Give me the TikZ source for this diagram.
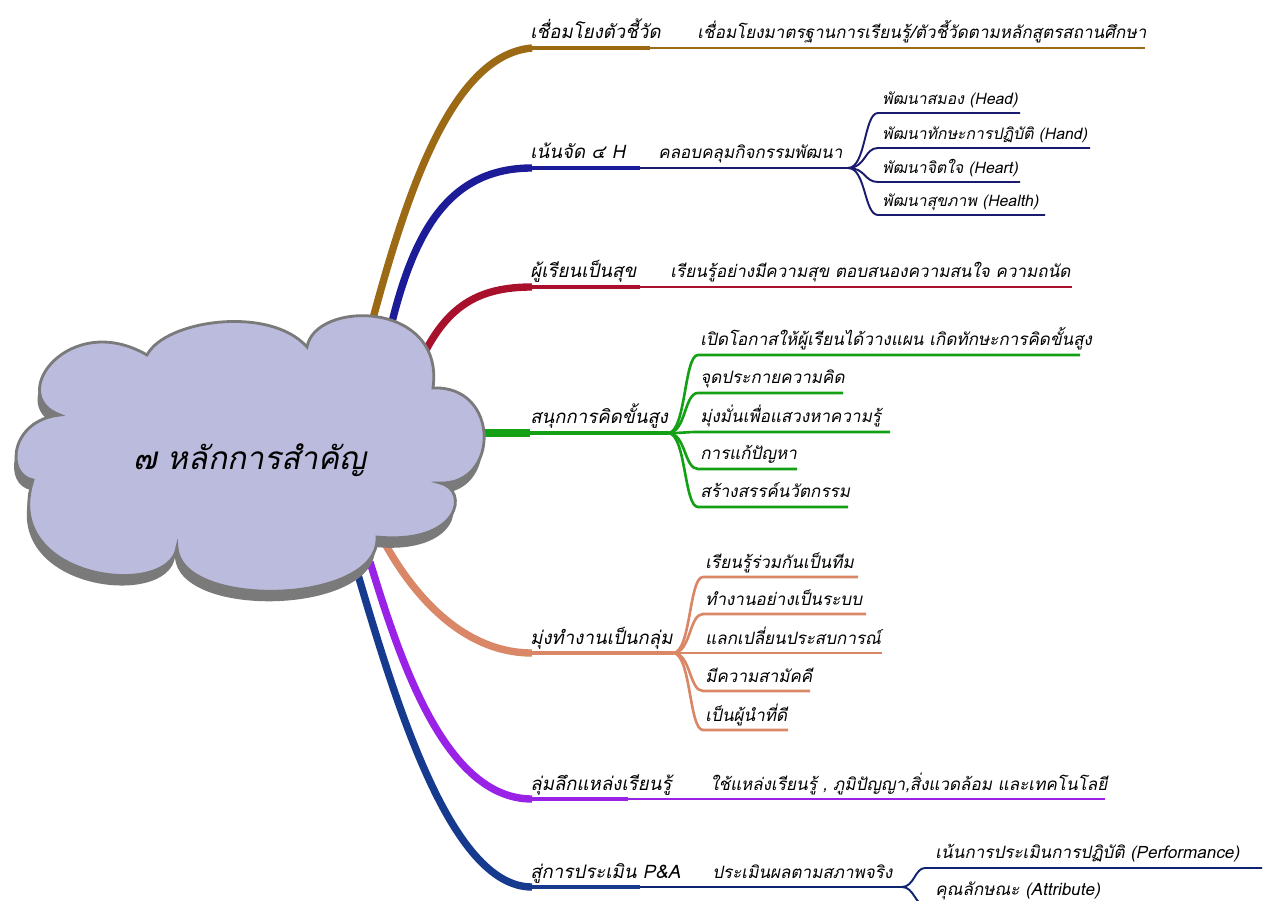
\documentclass[tikz,border=0pt]{standalone}
\usepackage{fontspec}
\newfontfamily\thaifont[Script=Thai,FakeSlant=0.2]{Loma}
\definecolor{gold}{HTML}{9C6A14}
\definecolor{royal}{HTML}{1C1C98}
\definecolor{ink}{HTML}{1A1A6E}
\definecolor{crimson}{HTML}{A8102C}
\definecolor{leafgreen}{HTML}{14A014}
\definecolor{salmon}{HTML}{D98766}
\definecolor{purp}{HTML}{9A22E6}
\definecolor{navy}{HTML}{163A8E}
\definecolor{deepnavy}{HTML}{0E2470}
\definecolor{cloudfill}{HTML}{BBBBDD}
\definecolor{rim}{HTML}{7A7A7A}
\newcommand{\puffpath}{(60,415) .. controls (5,395) and (70,310) .. (147,355) .. controls (165,320) and (270,305) .. (307,347) .. controls (315,300) and (445,300) .. (433,388) .. controls (500,385) and (500,485) .. (440,483) .. controls (470,490) and (460,545) .. (377,537) .. controls (380,605) and (180,610) .. (177,547) .. controls (170,600) and (0,580) .. (33,480) .. controls (5,475) and (10,420) .. (60,415) -- cycle}
\begin{document}
\begin{tikzpicture}[x=0.02cm,y=-0.02cm,
	lbl/.style={font=\thaifont\fontsize{10.6}{13}\selectfont,anchor=base west,inner sep=0pt},
	sublbl/.style={font=\thaifont\fontsize{9.7}{12}\selectfont,anchor=base west,inner sep=0pt},
	leaf/.style={font=\thaifont\fontsize{9}{11}\selectfont,anchor=base west,inner sep=0pt},
	stem/.style={line width=4.2pt},
	bar/.style={line width=2.4pt},
	twig/.style={line width=1.5pt},
	sprig/.style={line width=1.1pt}]
\useasboundingbox (0,0) rectangle (1277,901);

% roots of the branches
\coordinate (rA) at (372,322);
\coordinate (rB) at (392,322);
\coordinate (rC) at (426,350);
\coordinate (rD) at (480,433);
\coordinate (rE) at (383,540);
\coordinate (rF) at (370,562);
\coordinate (rG) at (356,568);

% 1
\node[lbl] (A) at (530,39) {เชื่อมโยงตัวชี้วัด};
\node[sublbl] (A1) at (697,39) {เชื่อมโยงมาตรฐานการเรียนรู้/ตัวชี้วัดตามหลักสูตรสถานศึกษา};
\coordinate (hA) at (532,48);
\coordinate (jA) at (650,48);
\coordinate (eA) at (1145,48);
\draw[gold,stem] (rA) .. controls (405,200) and (450,55) .. (hA);
\draw[gold,bar] (hA) -- (jA);
\draw[gold,twig] (jA) -- (eA);

% 2
\node[lbl] (B) at (530,159) {เน้นจัด ๔ H};
\node[sublbl] (B0) at (658,159) {คลอบคลุมกิจกรรมพัฒนา};
\coordinate (hB) at (532,168);
\coordinate (jB) at (640,168);
\coordinate (kB) at (848,168);
\draw[royal,stem] (rB) .. controls (415,230) and (450,168) .. (hB);
\draw[royal,bar] (hB) -- (jB);
\draw[ink,twig] (jB) -- (kB);
\foreach \i/\y/\e/\t in {1/113/1020/{พัฒนาสมอง (Head)},2/148/1090/{พัฒนาทักษะการปฏิบัติ (Hand)},3/182/1020/{พัฒนาจิตใจ (Heart)},4/215/1045/{พัฒนาสุขภาพ (Health)}}{
	\node[leaf] (B\i) at (882,\y-8) {\t};
	\coordinate (b\i) at (878,\y);
	\coordinate (be\i) at (\e,\y);
	\draw[ink,sprig] (kB) .. controls +(18,0) and +(-14,0) .. (b\i) -- (be\i);
}

% 3
\node[lbl] (C) at (530,278) {ผู้เรียนเป็นสุข};
\node[sublbl] (C1) at (670,278) {เรียนรู้อย่างมีความสุข ตอบสนองความสนใจ ความถนัด};
\coordinate (hC) at (532,287);
\coordinate (jC) at (640,287);
\coordinate (eC) at (1072,287);
\draw[crimson,stem] (rC) .. controls (450,305) and (480,287) .. (hC);
\draw[crimson,bar] (hC) -- (jC);
\draw[crimson,twig] (jC) -- (eC);

% 4
\node[lbl] (D) at (530,424) {สนุกการคิดขั้นสูง};
\coordinate (hD) at (530,433);
\coordinate (kD) at (668,433);
\draw[leafgreen,stem] (rD) -- (hD);
\draw[leafgreen,bar] (hD) -- (kD);
\foreach \i/\y/\e/\t in {1/355/1080/{เปิดโอกาสให้ผู้เรียนได้วางแผน เกิดทักษะการคิดขั้นสูง},2/393/843/{จุดประกายความคิด},3/432/890/{มุ่งมั่นเพื่อแสวงหาความรู้},4/469/797/{การแก้ปัญหา},5/507/848/{สร้างสรรค์นวัตกรรม}}{
	\node[sublbl] (D\i) at (700,\y-9) {\t};
	\coordinate (d\i) at (698,\y);
	\coordinate (de\i) at (\e,\y);
	\draw[leafgreen,twig] (kD) .. controls +(18,0) and +(-14,0) .. (d\i) -- (de\i);
}

% 5
\node[lbl] (E) at (530,644) {มุ่งทำงานเป็นกลุ่ม};
\coordinate (hE) at (532,653);
\coordinate (kE) at (673,653);
\draw[salmon,stem] (rE) .. controls (410,590) and (460,653) .. (hE);
\draw[salmon,bar] (hE) -- (kE);
\foreach \i/\y/\e/\t in {1/577/858/{เรียนรู้ร่วมกันเป็นทีม},2/614/866/{ทำงานอย่างเป็นระบบ},3/653/882/{แลกเปลี่ยนประสบการณ์},4/691/810/{มีความสามัคคี},5/730/788/{เป็นผู้นำที่ดี}}{
	\node[sublbl] (E\i) at (705,\y-9) {\t};
	\coordinate (s\i) at (703,\y);
	\coordinate (se\i) at (\e,\y);
	\draw[salmon,twig] (kE) .. controls +(18,0) and +(-14,0) .. (s\i) -- (se\i);
}

% 6
\node[lbl] (F) at (530,790) {ลุ่มลึกแหล่งเรียนรู้};
\node[sublbl] (F1) at (710,790) {ใช้แหล่งเรียนรู้ , ภูมิปัญญา,สิ่งแวดล้อม และเทคโนโลยี};
\coordinate (hF) at (532,799);
\coordinate (jF) at (628,799);
\coordinate (eF) at (1105,799);
\draw[purp,stem] (rF) .. controls (400,660) and (445,799) .. (hF);
\draw[purp,bar] (hF) -- (jF);
\draw[purp,twig] (jF) -- (eF);

% 7
\node[lbl] (G) at (530,878) {สู่การประเมิน P\&A};
\node[sublbl] (G0) at (712,878) {ประเมินผลตามสภาพจริง};
\coordinate (hG) at (532,887);
\coordinate (jG) at (640,887);
\coordinate (kG) at (902,887);
\draw[navy,stem] (rG) .. controls (395,700) and (450,887) .. (hG);
\draw[navy,bar] (hG) -- (jG);
\draw[deepnavy,twig] (jG) -- (kG);
\foreach \i/\y/\e/\t in {1/868/1262/{เน้นการประเมินการปฏิบัติ (Performance)},2/905/1115/{คุณลักษณะ (Attribute)}}{
	\node[sublbl] (G\i) at (935,\y-10) {\t};
	\coordinate (g\i) at (925,\y);
	\coordinate (ge\i) at (\e,\y);
	\draw[deepnavy,sprig] (kG) .. controls +(12,0) and +(-10,0) .. (g\i) -- (ge\i);
}

% centre
\fill[rim,shift={(-2,10)}] \puffpath;
\draw[rim,line width=1.6pt,fill=cloudfill] \puffpath;
\node[font=\thaifont\fontsize{18}{22}\selectfont] (K) at (250,460) {๗ หลักการสำคัญ};

\end{tikzpicture}
\end{document}
